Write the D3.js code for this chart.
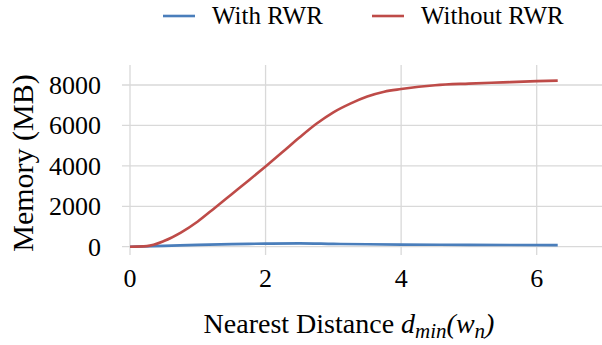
<!DOCTYPE html>
<html>
<head>
<meta charset="utf-8">
<script src="https://cdn.jsdelivr.net/npm/d3@7"></script>
<style>
  body { margin: 0; background: #fff; }
</style>
</head>
<body>
<script>
  /* DATA */
  var seriesNames = ["With RWR", "Without RWR"];
  var seriesColors = ["#4a7ebb", "#be4b48"];
  var withX = [0, 0.5, 1, 1.5, 2, 2.5, 3, 3.5, 4, 5, 6.31];
  var withY = [0, 40, 90, 125, 150, 165, 140, 120, 105, 90, 80];
  var withoutX = [0, 0.25, 0.5, 0.75, 1, 1.25, 1.5, 1.75, 2, 2.25, 2.5, 2.75, 3, 3.25, 3.5, 3.75, 4, 4.5, 5, 5.5, 6, 6.31];
  var withoutY = [0, 30, 280, 700, 1250, 1920, 2600, 3280, 3970, 4680, 5400, 6080, 6650, 7080, 7430, 7670, 7800, 7990, 8070, 8130, 8190, 8218];
  var xTicks = [0, 2, 4, 6];
  var yTicks = [0, 2000, 4000, 6000, 8000];

  var width = 602;
  var height = 345;
  var font = "'Liberation Serif', 'Times New Roman', serif";

  var svg = d3.select("body")
    .append("svg")
    .attr("width", width)
    .attr("height", height);

  var xScale = d3.scaleLinear().domain([0, 6]).range([130, 536.7]);
  var yScale = d3.scaleLinear().domain([0, 8000]).range([246.7, 85]);
  var plotTop = 65, plotBottom = 255;

  // grid
  svg.selectAll("line.hgrid")
    .data(yTicks)
    .enter()
    .append("line")
    .attr("x1", 122)
    .attr("x2", width)
    .attr("y1", function(d) { return yScale(d); })
    .attr("y2", function(d) { return yScale(d); })
    .attr("stroke", "#d9d9d9")
    .attr("stroke-width", 1.3);

  svg.selectAll("line.vgrid")
    .data(xTicks)
    .enter()
    .append("line")
    .attr("x1", function(d) { return xScale(d); })
    .attr("x2", function(d) { return xScale(d); })
    .attr("y1", plotTop)
    .attr("y2", plotBottom)
    .attr("stroke", "#d9d9d9")
    .attr("stroke-width", 1.3);

  // tick labels
  svg.selectAll("text.ytick")
    .data(yTicks)
    .enter()
    .append("text")
    .attr("x", 101)
    .attr("y", function(d) { return yScale(d); })
    .attr("dy", "0.34em")
    .attr("text-anchor", "end")
    .style("font-family", font)
    .style("font-size", "26px")
    .text(function(d) { return d; });

  svg.selectAll("text.xtick")
    .data(xTicks)
    .enter()
    .append("text")
    .attr("x", function(d) { return xScale(d); })
    .attr("y", 287)
    .attr("text-anchor", "middle")
    .style("font-family", font)
    .style("font-size", "26px")
    .text(function(d) { return d; });

  // axis titles
  svg.append("text")
    .attr("transform", "translate(33,163) rotate(-90)")
    .attr("text-anchor", "middle")
    .style("font-family", font)
    .style("font-size", "30px")
    .text("Memory (MB)");

  var xt = svg.append("text")
    .attr("x", 349)
    .attr("y", 333)
    .attr("text-anchor", "middle")
    .style("font-family", font)
    .style("font-size", "28px");
  xt.append("tspan").text("Nearest Distance ");
  xt.append("tspan").style("font-style", "italic").text("d");
  xt.append("tspan").style("font-style", "italic").style("font-size", "21px").attr("dy", 5).text("min");
  xt.append("tspan").style("font-style", "italic").attr("dy", -5).text("(w");
  xt.append("tspan").style("font-style", "italic").style("font-size", "21px").attr("dy", 5).text("n");
  xt.append("tspan").style("font-style", "italic").attr("dy", -5).text(")");

  // lines
  var drawLine = d3.line()
    .x(function(d) { return xScale(d[0]); })
    .y(function(d) { return yScale(d[1]); })
    .curve(d3.curveMonotoneX);

  var series = [
    d3.zip(withX, withY),
    d3.zip(withoutX, withoutY)
  ];

  series.forEach(function(pts, i) {
    svg.append("path")
      .datum(pts)
      .attr("fill", "none")
      .attr("stroke", seriesColors[i])
      .attr("stroke-width", 2.6)
      .attr("d", drawLine);
  });

  // legend
  var legendX = [163, 372];
  seriesNames.forEach(function(name, i) {
    svg.append("line")
      .attr("x1", legendX[i])
      .attr("x2", legendX[i] + 32)
      .attr("y1", 16)
      .attr("y2", 16)
      .attr("stroke", seriesColors[i])
      .attr("stroke-width", 2.6);
    svg.append("text")
      .attr("x", legendX[i] + 49)
      .attr("y", 24)
      .style("font-family", font)
      .style("font-size", "25px")
      .text(name);
  });
</script>
</body>
</html>
